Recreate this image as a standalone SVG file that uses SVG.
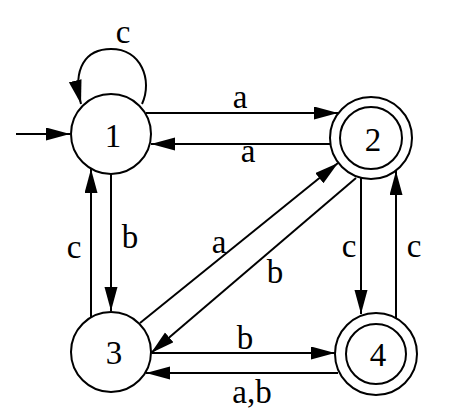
<svg xmlns="http://www.w3.org/2000/svg" width="452" height="418" viewBox="0 0 452 418">
<style>
  .node { fill: #fff; stroke: #000; stroke-width: 2; }
  .inner { fill: none; stroke: #000; stroke-width: 2; }
  .edge { fill: none; stroke: #000; stroke-width: 2; marker-end: url(#arr); }
  text { font-family: 'Liberation Serif', 'Times New Roman', Times, serif; font-size: 33px; fill: #000; text-anchor: middle; }
</style>
<defs>
  <marker id="arr" markerUnits="userSpaceOnUse" markerWidth="26" markerHeight="14" refX="24" refY="6.5" orient="auto">
    <path d="M0,0 L24,6.5 L0,13 z" fill="#000"/>
  </marker>
</defs>
<rect width="452" height="418" fill="#fff"/>
<g id="connectors" font-family="Liberation Serif, Times New Roman, serif">
  <line class="edge" x1="16" y1="134" x2="70" y2="134"/>
  <path class="edge" d="M142,104 C153,80 141,49 111,49 C86,49 72,68 81,104"/>
  <text x="123" y="43">c</text>
  <line class="edge" x1="146" y1="113" x2="338" y2="113"/>
  <text x="240" y="108">a</text>
  <line class="edge" x1="330" y1="144" x2="151" y2="144"/>
  <text x="248" y="162">a</text>
  <line class="edge" x1="111" y1="174" x2="111" y2="311"/>
  <text x="130" y="248">b</text>
  <line class="edge" x1="91" y1="317" x2="91" y2="169"/>
  <text x="74" y="258">c</text>
  <line class="edge" x1="140" y1="323" x2="338" y2="163"/>
  <text x="219" y="253">a</text>
  <line class="edge" x1="356" y1="178" x2="151" y2="353"/>
  <text x="275" y="283">b</text>
  <line class="edge" x1="361" y1="178" x2="361" y2="314"/>
  <text x="349" y="257">c</text>
  <line class="edge" x1="396" y1="318" x2="396" y2="171"/>
  <text x="414" y="257">c</text>
  <line class="edge" x1="152" y1="353" x2="335" y2="353"/>
  <text x="245" y="349">b</text>
  <line class="edge" x1="338" y1="373" x2="146" y2="373"/>
  <text x="252" y="403">a,b</text>
</g>
<g id="node1" font-family="Liberation Serif, Times New Roman, serif">
  <circle class="node" cx="111" cy="134" r="40"/>
  <text x="113" y="147">1</text>
</g>
<g id="node2" font-family="Liberation Serif, Times New Roman, serif">
  <circle class="node" cx="371" cy="138" r="41"/>
  <circle class="inner" cx="371" cy="138" r="31"/>
  <text x="373" y="151">2</text>
</g>
<g id="node3" font-family="Liberation Serif, Times New Roman, serif">
  <circle class="node" cx="111" cy="352" r="40"/>
  <text x="114" y="364">3</text>
</g>
<g id="node4" font-family="Liberation Serif, Times New Roman, serif">
  <circle class="node" cx="376" cy="354" r="41"/>
  <circle class="inner" cx="376" cy="354" r="30"/>
  <text x="378" y="366">4</text>
</g>
</svg>
